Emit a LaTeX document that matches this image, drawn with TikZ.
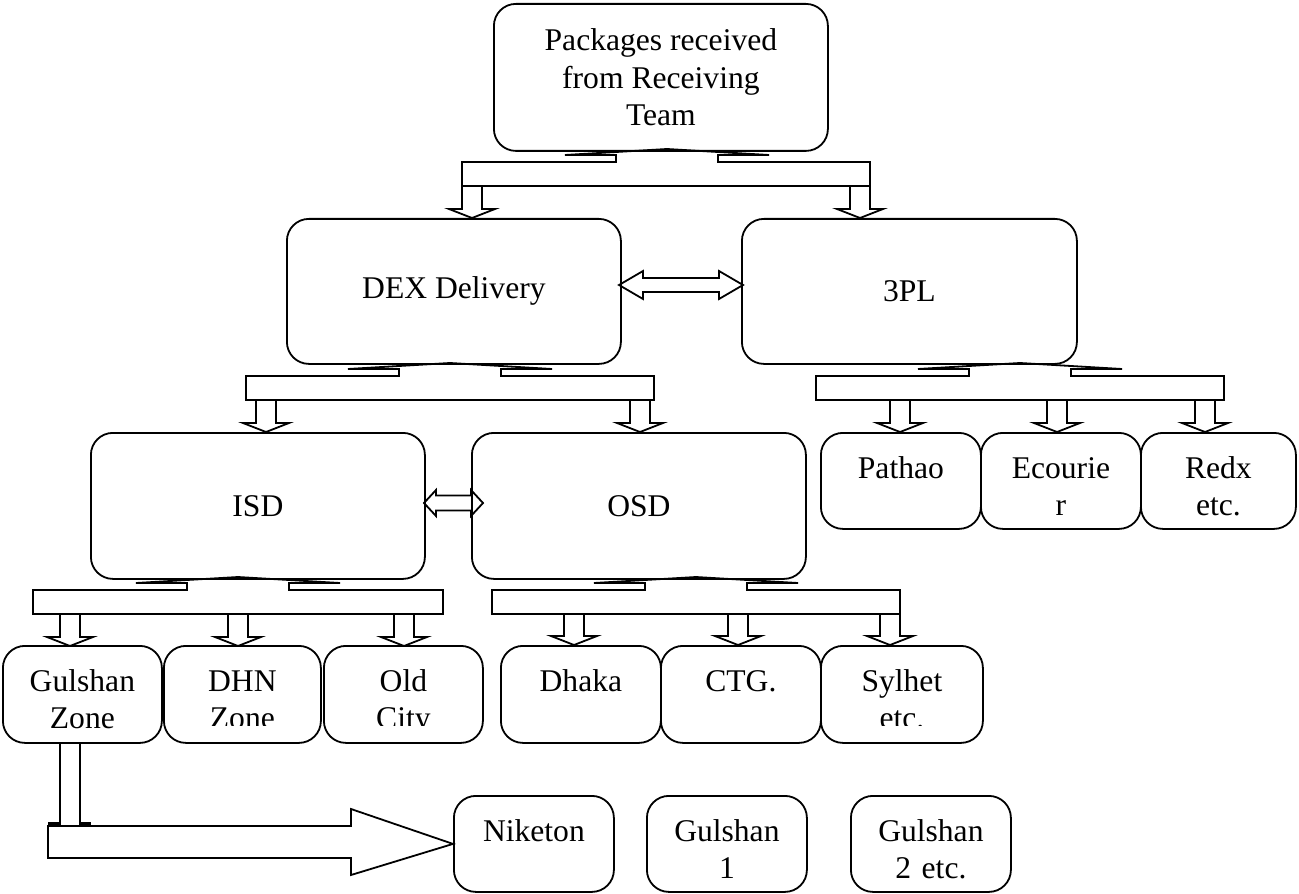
\documentclass[tikz,border=0pt]{standalone}
\usepackage{fontspec}
\setmainfont{Liberation Serif}
\usetikzlibrary{calc}
% bar under a box: flat up-tip at the box, notch, then the long bar
\newcommand{\splitbar}[4]{%
  \draw[blk] (#1,#2) -- (#1+102,#2+6) -- (#1+51,#2+6) -- (#1+51,#2+13)
    -- (#4,#2+13) -- (#4,#2+37) -- (#3,#2+37) -- (#3,#2+13)
    -- (#1-51,#2+13) -- (#1-51,#2+6) -- (#1-102,#2+6) -- cycle;}
% hollow down arrow hanging from a bar
\newcommand{\dnarrow}[2]{%
  \draw[blk] (#1-10,#2) -- (#1-10,#2+23) -- (#1-23,#2+23) -- (#1,#2+32)
    -- (#1+23,#2+23) -- (#1+10,#2+23) -- (#1+10,#2);}
% hollow double arrow
\newcommand{\dblarrow}[6]{%
  \draw[blk] (#1,#3) -- (#1+#4,#3-#5) -- (#1+#4,#3-#6) -- (#2-#4,#3-#6)
    -- (#2-#4,#3-#5) -- (#2,#3) -- (#2-#4,#3+#5) -- (#2-#4,#3+#6)
    -- (#1+#4,#3+#6) -- (#1+#4,#3+#5) -- cycle;}

\begin{document}
\begin{tikzpicture}[x=0.5pt,y=-0.5pt,line width=0.9pt,
  font=\fontsize{15.8}{18.8}\selectfont,
  box/.style={draw,rounded corners=11pt,inner sep=0pt,anchor=north west,align=center},
  blk/.style={draw,line join=miter},
  lbl/.style={anchor=base,align=center,text width=78pt,inner sep=0pt}]
\useasboundingbox (0,0) rectangle (1299,893);
%top
\node[box,minimum width=167pt,minimum height=73.5pt] (recv) at (493,3)
  {Packages received\\from Receiving\\Team};
\splitbar{667}{149}{462}{870}
\dnarrow{472}{186}
\dnarrow{860}{186}
%delivery types
\node[box,minimum width=167pt,minimum height=72.5pt] (dex) at (286,218) {DEX Delivery};
\node[box,minimum width=167.5pt,minimum height=72.5pt] (tpl) at (741,218) {3PL};
\dblarrow{619}{743}{285}{24}{14}{7}
%dex split
\splitbar{450}{363}{246}{654}
\dnarrow{266}{400}
\dnarrow{640}{400}
%3pl split
\splitbar{1020}{363}{816}{1224}
\dnarrow{900}{400}
\dnarrow{1057}{400}
\dnarrow{1205}{400}
\node[box,minimum width=80pt,minimum height=48pt] (pathao) at (820,432) {};
\node[box,minimum width=80pt,minimum height=48pt] (ecourier) at (980,432) {};
\node[box,minimum width=77.5pt,minimum height=48pt] (redx) at (1140,432) {};
\node[lbl] (pathaot) at ([yshift=-23pt]pathao.north) {Pathao};
\node[lbl] (ecouriert) at ([yshift=-23pt]ecourier.north) {Ecourie\\r};
\node[lbl] (redxt) at ([yshift=-23pt]redx.north) {Redx\\etc.};
%isd / osd
\node[box,minimum width=167pt,minimum height=73pt] (isd) at (90,432) {ISD};
\node[box,minimum width=167pt,minimum height=73pt] (osd) at (471,432) {OSD};
\dblarrow{424}{483}{503}{12}{13}{7.5}
\splitbar{238}{577}{33}{443}
\dnarrow{70}{614}
\dnarrow{238}{614}
\dnarrow{404}{614}
\splitbar{696}{577}{492}{900}
\dnarrow{574}{613}
\dnarrow{738}{613}
\dnarrow{890}{613}
%zones
\node[box,minimum width=79.5pt,minimum height=48.5pt] (gz) at (2,645) {};
\node[box,minimum width=78.5pt,minimum height=48.5pt] (dhn) at (163,645) {};
\node[box,minimum width=79.5pt,minimum height=48.5pt] (old) at (323,645) {};
\node[box,minimum width=80pt,minimum height=48.5pt] (dhaka) at (500,645) {};
\node[box,minimum width=80pt,minimum height=48.5pt] (ctg) at (660,645) {};
\node[box,minimum width=81pt,minimum height=48.5pt] (sylhet) at (820,645) {};
\node[lbl] (gzt) at ([yshift=-23pt]gz.north) {Gulshan\\Zone};
\node[lbl] (dhakat) at ([yshift=-23pt]dhaka.north) {Dhaka};
\node[lbl] (ctgt) at ([yshift=-23pt]ctg.north) {CTG.};
\begin{scope}
\clip (100,645) rectangle (1000,725);
\node[lbl] (dhnt) at ([yshift=-23pt]dhn.north) {DHN\\Zone};
\node[lbl] (oldt) at ([yshift=-23pt]old.north) {Old\\City};
\node[lbl] (sylhett) at ([yshift=-23pt]sylhet.north) {Sylhet\\etc.};
\end{scope}
%areas of gulshan zone
\node[box,minimum width=80pt,minimum height=48pt] (niketon) at (453,795) {};
\node[box,minimum width=80pt,minimum height=48pt] (gone) at (646,795) {};
\node[box,minimum width=80pt,minimum height=48pt] (gtwo) at (850,795) {};
\node[lbl] (niketont) at ([yshift=-23pt]niketon.north) {Niketon};
\node[lbl] (gonet) at ([yshift=-23pt]gone.north) {Gulshan\\1};
\node[lbl] (gtwot) at ([yshift=-23pt]gtwo.north) {Gulshan\\2 etc.};
\draw[blk] (60,742) -- (60,825);
\draw[blk] (80,742) -- (80,825);
\draw[line width=1.6pt] (48,824) -- (60,824) (80,824) -- (91,824);
\draw[blk] (48,826) -- (351,826) -- (351,809) -- (niketon.west) -- (351,875)
  -- (351,858) -- (48,858) -- cycle;
\end{tikzpicture}
\end{document}
